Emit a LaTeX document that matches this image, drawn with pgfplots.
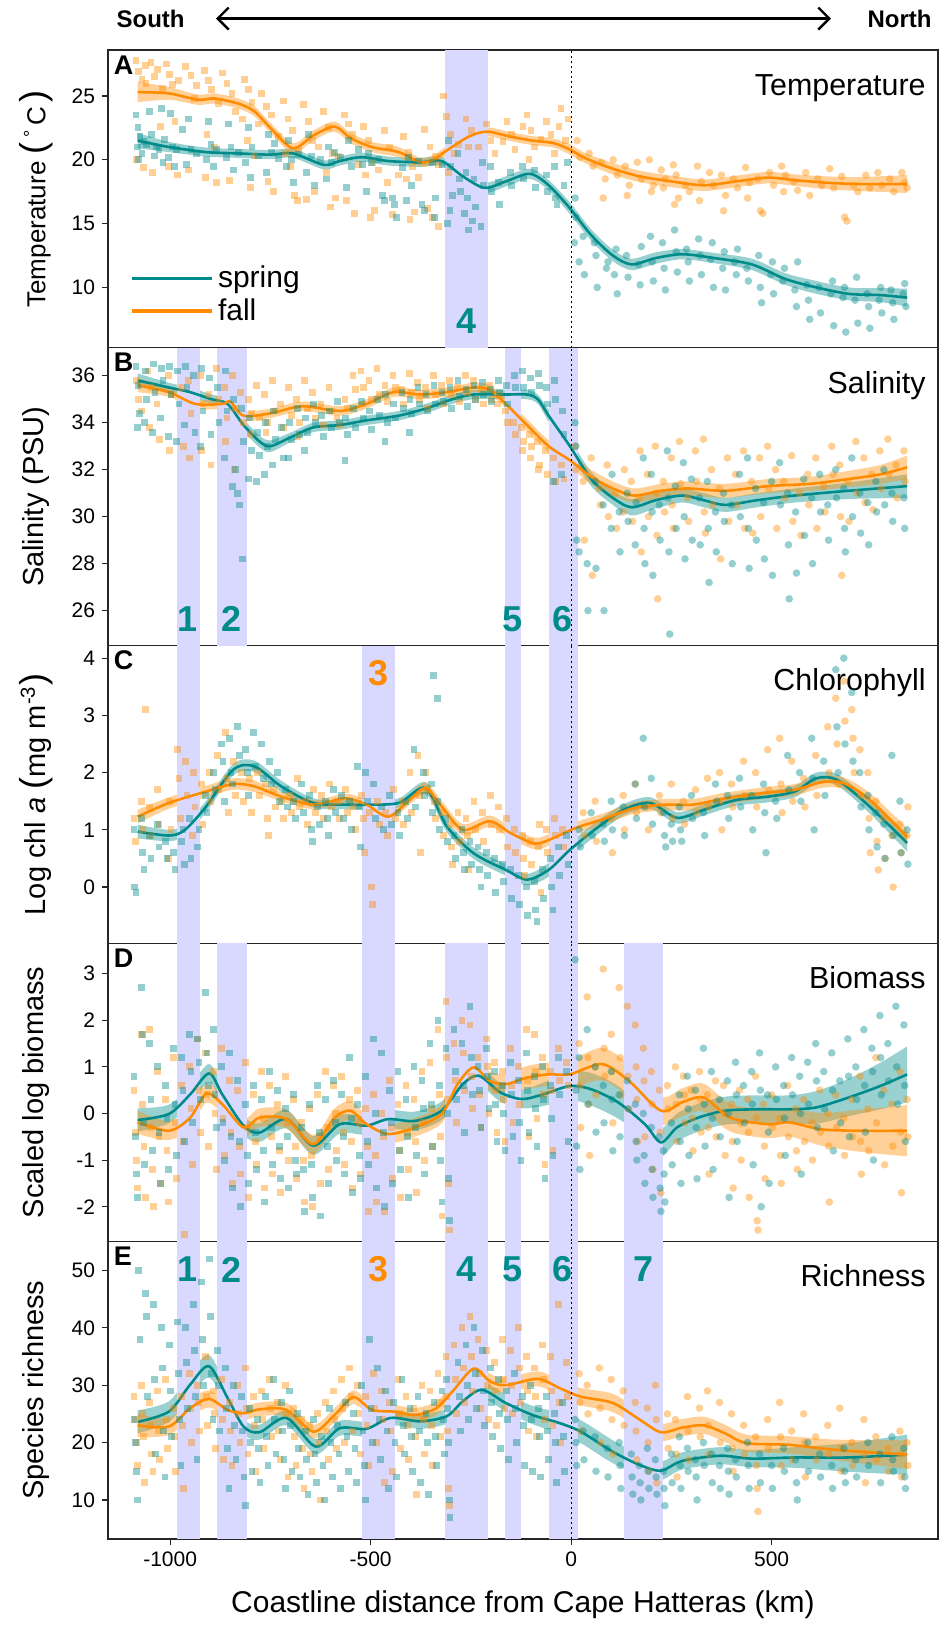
\documentclass[border=0pt]{standalone}
\usepackage{fontspec}
\setmainfont{Liberation Sans}
\usepackage{pgfplots}
\pgfplotsset{compat=1.18}
\usepackage{pgfplotstable}
\usepgfplotslibrary{fillbetween}
\usetikzlibrary{arrows.meta}
\definecolor{teal2}{RGB}{0,139,139}
\definecolor{orng}{RGB}{255,140,0}
\definecolor{band}{RGB}{217,217,255}

\pgfplotsset{
 panel/.style={width=415pt, height=148.9pt, scale only axis, anchor=south west,
   xmin=-1155, xmax=915, tick align=outside, major tick length=3pt, tick pos=left,
   clip bounding box=upper bound,
   axis line style={line width=0.6pt, black!85}, major tick style={line width=0.6pt, black!85},
   /pgf/number format/assume math mode=true, /pgf/number format/1000 sep={},
   tick label style={font=\fontsize{10.5}{12}\selectfont},
   ylabel style={font=\fontsize{14.5}{16}\selectfont, at={(axis description cs:-0.0867,0.5)}, anchor=center},
   xtick=\empty},
 sS/.style={only marks, mark=square*, mark size=1.7pt, color=teal2, mark options={solid, draw opacity=0, fill opacity=0.42}, forget plot},
 sN/.style={only marks, mark=*, mark size=1.9pt, color=teal2, mark options={solid, draw opacity=0, fill opacity=0.42}, forget plot},
 fS/.style={only marks, mark=square*, mark size=1.7pt, color=orng, mark options={solid, draw opacity=0, fill opacity=0.42}, forget plot},
 fN/.style={only marks, mark=*, mark size=1.9pt, color=orng, mark options={solid, draw opacity=0, fill opacity=0.42}, forget plot},
}
\newcommand\ribbon[3]{%
 \addplot[draw=none, smooth, forget plot, name path=#3H] table[x=x, y expr=\thisrow{y}+\thisrow{e}] {#1};
 \addplot[draw=none, smooth, forget plot, name path=#3L] table[x=x, y expr=\thisrow{y}-\thisrow{e}] {#1};
 \addplot[fill=#2, fill opacity=0.4, draw=none, forget plot] fill between[of=#3H and #3L];
}
\newcommand\curve[2]{\addplot[#2, line width=1.3pt, smooth, forget plot] table[x=x,y=y] {#1};}
\newcommand\bnd[2]{\fill[band] ({axis cs:#1,0} |- {rel axis cs:0,0}) rectangle ({axis cs:#2,0} |- {rel axis cs:0,1});}
\newcommand\zline{\draw[black, line width=0.5pt, dash pattern=on 1pt off 1.5pt] ({axis cs:0,0} |- {rel axis cs:0,0}) -- ({axis cs:0,0} |- {rel axis cs:0,1});}
\newcommand\plet[1]{\node[anchor=north west, inner sep=0pt, font=\bfseries\fontsize{13.5}{15}\selectfont] at (axis description cs:0.0065,0.983) {#1};}
\newcommand\ptitle[1]{\node[anchor=base east, inner sep=0pt, font=\fontsize{15.2}{17}\selectfont] at (axis description cs:0.9855,0.848) {#1};}
\newcommand\bnum[4]{\node[anchor=center, inner sep=0pt, text=#4, font=\bfseries\fontsize{18}{20}\selectfont] at (axis cs:#1,#2) {#3};}
\newcommand\bigp[1]{{\fontsize{18}{18}\selectfont #1}}

\pgfplotstableread{
x y e
-1081 25.3 0.8
-1003 25.2 0.5
-930 24.7 0.4
-890 24.8 0.4
-830 24.4 0.4
-790 23.8 0.4
-750 22.5 0.4
-694 20.9 0.4
-643 21.9 0.4
-590 22.6 0.4
-550 21.7 0.4
-497 21.0 0.4
-430 20.6 0.4
-376 19.8 0.35
-343 20.0 0.35
-316 20.6 0.35
-256 21.8 0.35
-210 22.2 0.35
-150 21.8 0.35
-96 21.5 0.35
-43 21.3 0.35
-3 20.8 0.4
37 20.1 0.4
104 19.3 0.45
171 18.7 0.45
251 18.3 0.45
331 18.0 0.45
411 18.3 0.45
491 18.6 0.45
558 18.4 0.45
638 18.2 0.5
718 18.1 0.55
838 18.1 0.7
}\Af
\pgfplotstableread{
x y e
-1081 21.5 0.6
-1003 21.0 0.4
-910 20.6 0.35
-830 20.5 0.35
-750 20.4 0.35
-694 20.5 0.35
-617 19.6 0.35
-577 19.9 0.35
-523 20.2 0.35
-456 19.9 0.35
-376 19.8 0.35
-323 19.9 0.35
-270 18.7 0.4
-216 17.8 0.4
-163 18.3 0.4
-103 18.9 0.4
-56 18.0 0.4
-3 16.2 0.45
50 14.1 0.45
104 12.5 0.45
151 11.8 0.45
211 12.3 0.45
277 12.6 0.4
357 12.3 0.4
451 11.8 0.45
531 10.7 0.45
598 10.1 0.5
691 9.5 0.5
771 9.4 0.55
838 9.2 0.7
}\As
\pgfplotstableread{
x y e
-1081 35.6 0.3
-1003 35.3 0.2
-937 34.8 0.2
-870 34.8 0.2
-850 34.9 0.2
-817 34.3 0.2
-750 34.4 0.2
-670 34.7 0.2
-577 34.5 0.2
-510 34.8 0.2
-443 35.3 0.2
-376 35.2 0.2
-310 35.3 0.2
-243 35.5 0.2
-203 35.4 0.2
-163 34.8 0.2
-110 33.9 0.25
-56 33.0 0.25
-3 32.4 0.3
50 31.7 0.3
104 31.2 0.3
157 30.9 0.3
224 31.1 0.3
291 31.2 0.3
384 31.1 0.3
491 31.3 0.3
598 31.4 0.3
691 31.6 0.35
771 31.8 0.4
838 32.1 0.5
}\Bf
\pgfplotstableread{
x y e
-1081 35.8 0.3
-1003 35.5 0.2
-950 35.3 0.2
-897 35.0 0.2
-857 34.8 0.2
-817 33.9 0.25
-777 33.2 0.25
-750 33.0 0.25
-697 33.4 0.2
-643 33.8 0.2
-577 33.9 0.2
-510 34.1 0.2
-430 34.3 0.2
-363 34.6 0.2
-296 35.0 0.2
-243 35.2 0.2
-163 35.2 0.2
-110 35.2 0.2
-83 35.0 0.2
-56 34.3 0.25
-3 33.0 0.3
50 31.6 0.3
104 30.8 0.3
151 30.4 0.35
211 30.7 0.35
277 30.9 0.3
331 30.7 0.3
384 30.5 0.3
464 30.7 0.3
558 30.9 0.3
691 31.1 0.35
838 31.3 0.5
}\Bs
\pgfplotstableread{
x y e
-1081 1.23 0.12
-1003 1.47 0.1
-910 1.67 0.1
-843 1.80 0.1
-790 1.76 0.1
-723 1.58 0.08
-643 1.44 0.08
-563 1.55 0.08
-510 1.44 0.08
-456 1.23 0.08
-403 1.52 0.08
-363 1.73 0.1
-323 1.41 0.1
-270 1.00 0.1
-203 1.15 0.1
-150 0.94 0.1
-90 0.76 0.1
-43 0.86 0.1
10 1.03 0.1
77 1.18 0.1
157 1.38 0.1
237 1.44 0.1
304 1.44 0.1
384 1.55 0.1
477 1.64 0.1
558 1.70 0.1
624 1.83 0.1
678 1.82 0.1
744 1.53 0.12
838 0.88 0.15
}\Cf
\pgfplotstableread{
x y e
-1081 0.97 0.12
-1003 0.90 0.1
-963 1.00 0.1
-910 1.41 0.1
-843 2.05 0.1
-790 2.11 0.1
-723 1.76 0.1
-643 1.47 0.08
-563 1.44 0.08
-510 1.44 0.08
-430 1.47 0.08
-363 1.73 0.1
-310 1.06 0.1
-243 0.59 0.1
-163 0.30 0.1
-110 0.13 0.1
-56 0.30 0.12
-3 0.65 0.12
64 1.03 0.12
131 1.35 0.1
197 1.47 0.1
264 1.21 0.1
331 1.35 0.1
411 1.52 0.1
491 1.58 0.1
558 1.67 0.1
611 1.90 0.1
664 1.87 0.1
744 1.41 0.12
838 0.77 0.15
}\Cs
\pgfplotstableread{
x y e
-1081 -0.19 0.25
-1003 -0.37 0.2
-950 -0.09 0.2
-910 0.43 0.2
-870 0.20 0.2
-817 -0.30 0.2
-777 -0.09 0.2
-710 -0.12 0.2
-643 -0.66 0.2
-590 -0.09 0.2
-550 0.06 0.2
-510 -0.23 0.2
-456 -0.44 0.2
-390 -0.30 0.2
-323 -0.01 0.2
-283 0.63 0.2
-243 0.99 0.2
-203 0.70 0.2
-163 0.63 0.2
-110 0.77 0.25
-56 0.84 0.25
-3 0.84 0.3
77 1.06 0.35
144 0.70 0.35
224 0.06 0.3
277 0.24 0.3
331 0.34 0.3
397 -0.09 0.3
491 -0.23 0.3
544 -0.19 0.3
624 -0.34 0.35
718 -0.37 0.45
838 -0.37 0.55
}\Df
\pgfplotstableread{
x y e
-1081 -0.14 0.25
-1003 -0.01 0.2
-950 0.41 0.2
-903 0.86 0.2
-870 0.41 0.2
-817 -0.26 0.2
-777 -0.41 0.2
-710 -0.12 0.2
-643 -0.69 0.2
-577 -0.23 0.2
-510 -0.26 0.2
-456 -0.12 0.2
-390 -0.16 0.2
-323 0.06 0.2
-270 0.63 0.2
-230 0.81 0.2
-176 0.45 0.2
-123 0.31 0.2
-70 0.41 0.25
-3 0.59 0.3
50 0.52 0.35
117 0.24 0.35
184 -0.23 0.3
224 -0.62 0.3
264 -0.30 0.3
317 -0.09 0.3
384 0.06 0.3
464 0.09 0.3
544 0.09 0.3
611 0.13 0.35
691 0.34 0.4
771 0.59 0.5
838 0.84 0.6
}\Ds
\pgfplotstableread{
x y e
-1081 23.0 2.0
-1003 22.8 1.5
-950 26.0 1.5
-903 27.6 1.5
-857 25.7 1.2
-817 25.1 1.2
-777 25.8 1.2
-710 25.7 1.2
-643 21.9 1.2
-590 24.8 1.2
-543 27.9 1.2
-497 25.7 1.2
-443 25.4 1.2
-390 24.8 1.2
-336 26.0 1.2
-296 28.9 1.3
-243 32.9 1.3
-203 30.7 1.3
-163 30.0 1.3
-83 31.1 1.3
-29 29.5 1.4
24 28.0 1.5
104 26.9 1.6
171 24.0 1.6
224 21.8 1.5
277 22.6 1.5
331 23.0 1.5
384 21.6 1.5
437 19.9 1.5
544 19.6 1.5
664 18.7 1.8
838 17.9 2.5
}\Ef
\pgfplotstableread{
x y e
-1081 23.6 2.0
-1003 25.4 1.8
-950 30.1 2.0
-903 33.3 2.0
-857 27.8 1.5
-817 22.8 1.3
-777 21.8 1.3
-710 24.3 1.3
-637 19.3 1.3
-577 22.5 1.3
-510 22.4 1.3
-450 24.3 1.3
-376 23.7 1.3
-310 24.6 1.3
-270 27.2 1.4
-223 29.2 1.4
-163 26.9 1.5
-96 24.8 1.6
-29 23.4 1.8
24 21.9 2.0
104 18.4 2.0
171 16.1 1.8
224 15.1 1.6
277 16.8 1.5
371 17.7 1.5
451 17.2 1.5
558 17.4 1.8
691 17.4 2.5
838 17.9 3.5
}\Es

\begin{document}
\begin{tikzpicture}
\path (0,0) rectangle (469.5pt,814.5pt);

% top arrow
\draw[line width=1.1pt, {Straight Barb[length=5.5pt,width=11pt,line width=1.2pt]}-{Straight Barb[length=5.5pt,width=11pt,line width=1.2pt]}] (108pt,805.2pt) -- (415.5pt,805.2pt);
\node[font=\bfseries\fontsize{12}{14}\selectfont] at (75.3pt,805.2pt) {South};
\node[font=\bfseries\fontsize{12}{14}\selectfont] at (449.8pt,805.2pt) {North};

%================ A
\begin{axis}[panel, at={(54pt,640.6pt)}, ymin=5.27, ymax=28.6, ytick={10,15,20,25},
  ylabel={\fontsize{13}{15}\selectfont Temperature \bigp{(}\,\textsuperscript{°}\,C\,\bigp{)}},
  legend style={draw=none, fill=none, at={(0.027,0.29)}, anchor=north west, font=\fontsize{15}{16}\selectfont, row sep=0pt, inner sep=0pt},
  legend image code/.code={\draw[#1] (0pt,0pt) -- (28.5pt,0pt); \path (0pt,0pt) -- (40pt,0pt);}, legend cell align=left]
\addlegendimage{teal2, line width=1.6pt}\addlegendentry{spring}
\addlegendimage{orng, line width=1.6pt}\addlegendentry{fall}
\bnd{-314}{-207}
\addplot[fS] coordinates {(-1085,27.8)(-1078,26.9)(-1070,26.3)(-1062,27.4)(-1083,20.0)(-1066,19.4)(-1048,27.6)(-1040,26.5)(-1032,27.1)(-1045,19.0)(-1025,22.6)(-1010,27.5)(-1002,26.7)(-995,25.9)(-988,23.0)(-1005,19.5)(-982,18.8)(-962,27.3)(-948,26.6)(-955,19.2)(-935,25.8)(-915,27.0)(-905,26.2)(-896,25.5)(-908,22.0)(-890,21.0)(-912,18.6)(-884,18.2)(-870,26.8)(-858,26.0)(-846,25.2)(-852,18.4)(-838,23.8)(-815,26.3)(-805,25.5)(-796,24.5)(-808,21.5)(-790,20.3)(-800,17.8)(-772,25.2)(-760,24.2)(-748,23.5)(-756,18.3)(-742,17.5)(-718,24.6)(-706,23.2)(-695,22.3)(-712,20.5)(-700,19.5)(-690,17.2)(-683,16.8)(-668,24.3)(-655,23.0)(-645,21.5)(-660,16.9)(-640,17.5)(-618,23.8)(-605,22.5)(-596,20.5)(-610,19.0)(-588,17.0)(-600,16.3)(-566,23.5)(-555,22.8)(-545,22.0)(-560,16.8)(-540,15.8)(-518,22.6)(-506,21.5)(-496,19.8)(-512,18.8)(-490,16.0)(-500,15.5)(-465,22.3)(-452,21.0)(-445,15.7)(-458,18.2)(-418,21.8)(-406,20.6)(-396,19.5)(-410,18.5)(-390,15.9)(-402,15.3)(-365,22.4)(-352,21.0)(-345,15.5)(-358,16.2)(-330,14.8)(-338,20.3)(-310,23.4)(-300,22.0)(-292,20.5)(-305,19.0)(-318,25.0)(-262,23.2)(-248,22.3)(-255,21.0)(-212,22.8)(-200,21.5)(-190,20.5)(-160,23.0)(-148,22.0)(-140,20.8)(-110,23.5)(-100,22.3)(-92,21.0)(-105,20.0)(-62,23.0)(-50,22.0)(-42,20.5)(-25,24.0)(-15,21.5)(-8,23.2)(-1060,26.0)(-1020,25.6)(-980,26.2)(-940,24.8)(-880,24.4)(-820,23.2)(-780,22.8)(-730,21.8)(-680,20.8)(-630,21.0)(-580,20.3)(-530,19.6)(-480,19.2)(-430,18.8)(-380,18.6)(-330,19.6)(-280,21.2)(-230,21.0)(-170,21.4)(-120,22.6)(-75,21.6)(-30,22.6)};
\addplot[fN] coordinates {(15,21.5)(22,20.2)(45,20.5)(55,19.5)(75,19.8)(85,18.5)(80,17.0)(105,20.0)(115,18.8)(135,19.5)(145,18.0)(140,17.2)(165,19.8)(175,18.5)(195,20.0)(205,18.0)(200,17.5)(225,19.2)(235,18.5)(230,17.8)(255,19.6)(262,18.8)(268,17.0)(258,16.5)(285,18.0)(295,17.5)(315,19.5)(325,18.3)(320,16.8)(345,19.0)(355,18.0)(375,18.8)(385,17.2)(380,16.0)(405,18.5)(415,17.8)(435,19.4)(445,18.2)(440,17.0)(465,18.5)(472,16.0)(478,15.8)(495,19.0)(505,18.0)(525,19.5)(535,18.8)(530,17.5)(555,18.3)(565,17.6)(585,19.0)(595,17.2)(615,18.5)(625,18.0)(645,19.3)(655,17.8)(675,18.7)(682,15.5)(688,15.2)(705,18.0)(715,17.5)(735,18.8)(745,17.8)(765,19.0)(775,18.0)(795,18.5)(805,17.5)(825,19.0)(832,18.2)(838,17.8)};
\addplot[sS] coordinates {(-1085,23.5)(-1080,22.5)(-1075,21.8)(-1082,21.0)(-1070,20.5)(-1078,20.0)(-1052,23.8)(-1046,22.0)(-1058,21.2)(-1040,20.3)(-1022,24.0)(-1015,21.6)(-1028,20.8)(-1018,19.8)(-1000,23.6)(-994,21.0)(-1004,20.2)(-990,19.5)(-955,23.2)(-948,20.8)(-960,19.6)(-970,22.4)(-905,23.0)(-898,21.2)(-910,20.0)(-892,19.5)(-855,22.8)(-848,21.0)(-860,20.2)(-842,19.2)(-805,22.5)(-796,21.0)(-812,19.8)(-800,18.6)(-755,22.0)(-748,20.6)(-760,19.0)(-740,21.3)(-705,21.5)(-698,20.0)(-710,19.5)(-692,18.2)(-655,22.0)(-648,20.3)(-660,19.0)(-640,18.0)(-605,21.0)(-598,19.8)(-610,18.5)(-590,20.6)(-555,21.5)(-548,19.5)(-560,17.8)(-530,20.8)(-505,20.5)(-498,19.8)(-510,17.5)(-470,17.2)(-465,16.8)(-445,17.0)(-440,16.5)(-435,15.5)(-405,20.2)(-398,18.0)(-410,16.8)(-372,16.5)(-365,16.0)(-345,19.8)(-338,17.0)(-340,15.5)(-305,21.5)(-300,19.5)(-296,17.2)(-302,16.0)(-308,15.0)(-282,20.5)(-278,18.5)(-275,17.5)(-262,19.0)(-258,17.0)(-265,15.8)(-255,14.5)(-242,18.5)(-238,16.3)(-245,15.2)(-222,19.8)(-218,18.0)(-225,14.8)(-202,19.5)(-198,17.5)(-182,18.2)(-178,16.5)(-152,19.0)(-148,18.0)(-122,19.5)(-118,18.5)(-92,19.2)(-88,17.8)(-62,18.8)(-58,17.5)(-42,19.5)(-38,17.0)(-35,16.5)(-18,18.0)(-10,19.8)(-1065,21.4)(-1035,21.0)(-985,20.8)(-935,20.5)(-885,20.8)(-830,20.6)(-780,20.3)(-730,20.1)(-680,20.4)(-625,20.0)(-575,20.2)(-520,19.6)(-480,20.0)(-420,19.4)(-380,19.9)(-320,19.6)};
\addplot[sN] coordinates {(10,17.0)(12,15.5)(8,13.5)(20,12.0)(30,14.0)(33,11.0)(58,13.5)(62,12.5)(65,10.0)(88,11.5)(92,12.0)(108,11.0)(112,13.0)(115,9.5)(138,12.5)(142,10.8)(168,11.8)(172,10.2)(175,13.2)(198,14.0)(202,12.0)(205,10.5)(228,13.5)(232,11.5)(235,9.8)(258,14.5)(262,12.8)(265,11.2)(288,13.0)(292,12.0)(295,10.5)(318,13.8)(322,12.5)(325,11.0)(348,12.2)(352,13.5)(355,10.0)(378,11.5)(382,12.8)(385,9.8)(408,12.0)(412,11.0)(415,13.0)(438,11.5)(442,10.5)(468,12.5)(472,10.0)(475,8.8)(498,11.0)(502,12.0)(505,9.5)(528,10.5)(532,11.5)(558,9.8)(562,8.5)(565,12.0)(588,10.2)(592,9.0)(595,7.5)(618,10.0)(622,8.0)(648,9.5)(652,10.5)(655,7.0)(678,9.2)(682,10.0)(685,6.5)(708,9.0)(712,10.8)(715,7.2)(738,9.5)(742,8.5)(745,6.8)(768,9.0)(772,10.0)(775,8.0)(798,9.8)(802,8.8)(805,7.5)(828,9.5)(832,10.3)(835,8.5)};
\ribbon{\As}{teal2}{as}
\ribbon{\Af}{orng}{af}
\curve{\As}{teal2}
\curve{\Af}{orng}
\zline
\plet{A}
\ptitle{Temperature}
\bnum{-260}{7.36}{4}{teal2}
\end{axis}

%================ B
\begin{axis}[panel, at={(54pt,491.7pt)}, ymin=24.51, ymax=37.19, ytick={26,28,30,32,34,36},
  ylabel={Salinity (PSU)}]
\bnd{-983}{-926}\bnd{-883}{-808}\bnd{-164}{-126}\bnd{-56}{18}
\addplot[fS] coordinates {(-1085,35.8)(-1078,35.0)(-1072,34.5)(-1055,36.2)(-1048,35.5)(-1052,33.8)(-1033,34.8)(-1027,33.3)(-1005,36.0)(-998,35.2)(-1002,32.8)(-972,35.5)(-966,33.0)(-955,35.8)(-948,34.4)(-952,32.5)(-924,36.0)(-918,34.8)(-921,32.8)(-903,35.2)(-898,32.2)(-884,36.3)(-878,35.0)(-864,35.5)(-858,34.2)(-861,33.2)(-844,36.0)(-838,34.6)(-841,32.0)(-824,35.3)(-818,34.0)(-804,35.0)(-798,34.4)(-801,33.5)(-784,35.6)(-778,34.2)(-764,35.2)(-758,34.0)(-761,33.6)(-744,35.8)(-738,34.5)(-724,34.8)(-718,33.8)(-704,35.5)(-698,34.3)(-684,35.0)(-678,34.0)(-681,33.4)(-664,35.8)(-658,34.6)(-644,35.3)(-638,34.2)(-624,34.8)(-618,33.9)(-604,35.5)(-598,34.5)(-584,34.2)(-578,33.9)(-564,35.0)(-558,34.6)(-544,36.0)(-538,35.4)(-524,36.2)(-518,35.5)(-521,34.8)(-504,35.8)(-498,35.0)(-484,36.3)(-478,35.2)(-464,35.6)(-458,34.9)(-444,36.0)(-438,35.5)(-424,35.4)(-418,34.8)(-404,36.1)(-398,35.3)(-384,35.7)(-378,35.0)(-364,35.5)(-358,34.6)(-344,36.0)(-338,35.2)(-324,35.6)(-318,34.8)(-304,35.8)(-298,35.2)(-284,35.5)(-278,34.9)(-264,36.0)(-258,35.3)(-244,35.8)(-238,35.0)(-224,35.4)(-218,34.8)(-204,35.6)(-198,35.0)(-184,34.8)(-178,35.2)(-164,34.5)(-158,34.0)(-144,34.0)(-138,33.5)(-124,33.8)(-118,33.2)(-121,32.8)(-104,33.5)(-98,33.0)(-101,32.5)(-84,33.2)(-78,32.2)(-81,32.0)(-64,32.8)(-58,31.8)(-44,32.5)(-38,31.5)(-24,32.2)(-18,31.6)};
\addplot[fN] coordinates {(10,33.0)(12,32.0)(30,31.5)(33,29.0)(50,32.5)(53,27.5)(70,31.2)(73,30.5)(90,32.2)(93,30.0)(110,31.0)(113,29.5)(130,30.2)(133,32.0)(150,31.5)(153,29.8)(170,30.8)(172,32.8)(175,28.5)(190,31.8)(193,30.0)(210,33.0)(212,31.0)(214,29.2)(216,26.5)(230,31.5)(233,30.2)(250,32.5)(252,30.5)(255,29.5)(270,33.2)(273,31.4)(290,30.8)(293,29.8)(310,32.8)(313,31.5)(330,33.3)(332,30.2)(335,29.3)(350,32.0)(353,30.5)(370,31.2)(373,28.2)(390,32.5)(393,29.8)(410,31.8)(413,30.5)(430,32.8)(433,29.5)(450,31.5)(453,29.3)(470,32.5)(473,30.0)(490,33.0)(493,31.2)(510,32.0)(513,29.5)(530,31.5)(533,30.8)(550,32.6)(553,29.8)(570,31.0)(573,29.2)(590,31.8)(593,30.5)(610,32.5)(613,29.5)(630,31.3)(633,30.2)(650,33.0)(653,31.8)(670,32.2)(672,30.0)(675,27.5)(690,31.5)(693,29.8)(710,33.2)(713,31.0)(730,32.5)(733,30.6)(750,31.8)(753,30.3)(770,32.8)(773,31.2)(790,33.3)(793,31.8)(810,32.2)(813,30.8)(830,32.8)(833,31.5)};
\addplot[sS] coordinates {(-1085,36.4)(-1080,35.6)(-1076,34.4)(-1082,33.8)(-1062,36.2)(-1058,35.0)(-1064,34.0)(-1042,36.5)(-1038,35.3)(-1044,33.6)(-1022,36.3)(-1018,35.8)(-1024,34.2)(-1002,36.4)(-998,35.2)(-1004,33.4)(-982,36.2)(-978,34.8)(-984,33.2)(-962,36.4)(-958,35.5)(-964,33.9)(-942,36.0)(-938,33.6)(-922,36.3)(-918,34.5)(-924,33.0)(-902,35.9)(-898,33.5)(-882,35.5)(-878,34.0)(-862,36.2)(-858,34.5)(-864,32.5)(-842,35.0)(-838,32.0)(-844,31.3)(-832,31.0)(-828,30.5)(-822,34.6)(-818,33.2)(-820,28.2)(-802,34.2)(-798,32.8)(-804,31.6)(-782,33.6)(-778,32.6)(-784,31.5)(-762,34.0)(-758,33.0)(-764,31.8)(-742,34.5)(-738,33.3)(-744,32.2)(-722,33.8)(-718,32.5)(-702,34.0)(-698,33.3)(-704,32.5)(-682,34.6)(-678,33.5)(-662,34.2)(-658,33.6)(-664,32.8)(-642,34.8)(-638,34.0)(-622,34.3)(-618,33.4)(-602,34.5)(-598,33.8)(-582,34.9)(-578,34.0)(-562,34.2)(-558,33.5)(-564,32.4)(-542,34.6)(-538,33.8)(-522,34.9)(-518,34.2)(-502,34.5)(-498,33.7)(-482,35.0)(-478,34.3)(-462,35.2)(-458,34.0)(-464,33.2)(-442,34.8)(-438,34.2)(-422,35.3)(-418,34.6)(-402,35.0)(-398,34.4)(-404,33.6)(-382,35.5)(-378,34.8)(-362,35.2)(-358,34.5)(-342,35.6)(-338,34.8)(-322,35.3)(-318,34.9)(-302,35.5)(-298,34.6)(-282,35.8)(-278,35.1)(-262,35.4)(-258,34.7)(-242,35.6)(-238,35.0)(-222,35.7)(-218,35.2)(-202,35.4)(-198,34.9)(-182,35.8)(-178,35.3)(-162,35.6)(-158,34.8)(-142,36.0)(-138,35.5)(-122,36.2)(-118,35.5)(-102,35.9)(-98,35.3)(-82,36.1)(-78,35.6)(-62,35.5)(-58,34.8)(-42,35.8)(-38,35.0)(-44,31.5)(-22,34.5)(-18,33.5)(-24,31.8)};
\addplot[sN] coordinates {(10,34.0)(12,33.0)(14,29.0)(20,28.5)(40,28.0)(42,26.0)(60,31.5)(62,27.8)(80,30.5)(82,26.0)(100,29.5)(102,31.8)(120,30.2)(122,28.5)(140,31.0)(142,29.8)(160,28.8)(162,30.6)(180,32.5)(182,29.5)(184,28.0)(200,31.8)(202,30.2)(204,27.5)(220,30.5)(222,29.0)(240,32.8)(242,30.8)(244,28.5)(246,25.0)(260,31.3)(262,29.5)(280,32.3)(282,30.0)(284,28.2)(300,31.6)(302,29.0)(320,30.8)(322,28.8)(340,31.5)(342,29.5)(344,27.2)(360,30.2)(362,28.5)(380,31.0)(382,29.8)(400,30.5)(402,28.0)(420,31.8)(422,30.0)(440,32.5)(442,29.5)(444,27.8)(460,31.2)(462,29.0)(480,30.6)(482,28.2)(500,31.5)(502,27.5)(520,32.3)(522,30.5)(540,31.0)(542,28.8)(544,26.5)(560,30.2)(562,27.6)(580,31.6)(582,29.2)(600,30.8)(602,28.0)(620,31.8)(622,30.2)(640,30.5)(642,29.0)(660,32.0)(662,30.8)(680,31.2)(682,29.5)(684,28.5)(700,32.5)(702,30.0)(720,31.0)(722,29.3)(740,30.6)(742,28.8)(760,31.5)(762,30.2)(780,32.0)(782,30.5)(800,31.0)(802,29.8)(830,30.8)(832,29.5)};
\ribbon{\Bs}{teal2}{bs}
\ribbon{\Bf}{orng}{bf}
\curve{\Bs}{teal2}
\curve{\Bf}{orng}
\zline
\plet{B}
\ptitle{Salinity}
\bnum{-957}{25.63}{1}{teal2}\bnum{-846}{25.63}{2}{teal2}\bnum{-146}{25.63}{5}{teal2}\bnum{-22}{25.63}{6}{teal2}
\end{axis}

%================ C
\begin{axis}[panel, at={(54pt,342.8pt)}, ymin=-0.985, ymax=4.22, ytick={0,1,2,3,4},
  ylabel={Log chl \textit{a} \bigp{(}mg m\textsuperscript{-3}\bigp{)}}]
\bnd{-983}{-926}\bnd{-521}{-438}\bnd{-164}{-126}\bnd{-56}{18}
\addplot[fS] coordinates {(-1090,1.2)(-1086,0.8)(-1072,1.5)(-1068,1.0)(-1062,3.1)(-1052,1.4)(-1048,0.9)(-1032,1.7)(-1028,1.1)(-1002,1.5)(-998,1.0)(-1005,0.5)(-982,2.4)(-978,1.9)(-975,1.2)(-962,2.2)(-958,1.6)(-942,2.0)(-938,1.4)(-945,0.9)(-922,1.8)(-918,1.1)(-902,2.0)(-898,1.5)(-882,2.3)(-878,1.7)(-862,2.7)(-858,1.9)(-855,1.3)(-842,2.2)(-838,1.6)(-822,2.0)(-818,1.5)(-802,1.9)(-798,1.3)(-782,2.0)(-778,1.6)(-762,1.8)(-758,1.2)(-755,0.9)(-742,1.7)(-738,1.4)(-722,1.5)(-718,1.2)(-702,1.6)(-698,1.3)(-682,1.9)(-678,1.4)(-662,1.5)(-658,1.1)(-642,1.7)(-638,1.3)(-622,1.6)(-618,1.2)(-602,1.8)(-598,1.4)(-582,1.5)(-578,1.2)(-562,1.7)(-558,1.3)(-542,1.4)(-538,1.0)(-522,1.6)(-518,1.2)(-515,0.6)(-502,1.3)(-498,0.0)(-495,-0.3)(-482,1.5)(-478,1.1)(-462,1.3)(-458,0.9)(-442,1.7)(-438,1.2)(-422,1.5)(-418,1.1)(-402,2.0)(-398,1.3)(-382,2.3)(-378,1.6)(-375,0.6)(-362,2.0)(-358,1.7)(-342,1.5)(-338,1.2)(-322,1.3)(-318,0.9)(-302,1.1)(-298,0.7)(-295,0.4)(-282,1.3)(-278,0.8)(-262,1.2)(-258,0.9)(-255,0.3)(-242,1.5)(-238,1.0)(-222,1.3)(-218,0.8)(-202,1.6)(-198,1.1)(-182,1.4)(-178,1.0)(-162,1.2)(-158,0.7)(-142,1.0)(-138,0.6)(-122,0.9)(-118,0.5)(-115,0.2)(-102,0.8)(-98,0.4)(-82,0.7)(-78,1.1)(-75,-0.1)(-62,1.0)(-58,0.6)(-42,1.2)(-38,0.9)(-22,1.0)(-18,0.7)};
\addplot[fN] coordinates {(30,1.3)(33,0.9)(60,1.5)(63,0.8)(100,1.2)(103,0.6)(130,1.6)(133,1.0)(160,1.8)(163,1.3)(190,1.4)(193,1.0)(220,1.6)(223,1.3)(250,1.8)(253,1.2)(280,1.5)(283,1.1)(310,1.7)(313,1.3)(340,1.9)(343,1.4)(370,2.0)(373,1.5)(376,1.0)(400,1.8)(403,1.4)(430,2.2)(433,1.6)(460,2.0)(463,1.4)(490,2.4)(493,1.7)(520,2.6)(523,1.8)(526,1.3)(550,2.2)(553,1.5)(580,1.9)(583,1.4)(610,2.3)(613,1.6)(640,2.8)(643,2.0)(660,3.3)(663,2.5)(666,1.8)(680,3.6)(683,2.9)(700,3.1)(703,2.6)(706,2.0)(720,2.4)(723,1.6)(740,2.0)(743,1.2)(746,0.6)(760,1.5)(763,0.8)(766,0.3)(780,1.2)(783,0.5)(800,0.9)(803,0.0)(820,1.1)(823,0.6)(838,0.9)(840,1.4)};
\addplot[sS] coordinates {(-1090,1.0)(-1088,0.0)(-1085,-0.1)(-1072,1.2)(-1068,0.6)(-1065,0.3)(-1052,0.9)(-1048,0.5)(-1032,1.1)(-1028,0.7)(-1012,0.8)(-1008,0.5)(-992,0.6)(-988,0.3)(-972,0.8)(-968,1.0)(-965,0.4)(-952,1.2)(-948,0.5)(-932,0.7)(-928,1.0)(-912,1.6)(-908,1.3)(-892,2.0)(-888,1.7)(-872,2.5)(-868,2.2)(-865,1.5)(-852,2.6)(-848,2.0)(-845,1.8)(-832,2.8)(-828,2.3)(-812,2.4)(-808,2.0)(-805,1.6)(-792,2.7)(-788,2.1)(-772,2.5)(-768,1.9)(-752,2.2)(-748,1.8)(-732,2.0)(-728,1.5)(-712,1.7)(-708,1.4)(-692,1.5)(-688,1.2)(-672,1.8)(-668,1.3)(-652,1.6)(-648,1.0)(-645,0.8)(-632,1.4)(-628,1.1)(-612,1.5)(-608,1.2)(-605,0.9)(-592,1.7)(-588,1.3)(-572,1.6)(-568,1.2)(-552,1.5)(-548,1.0)(-532,2.1)(-528,1.4)(-525,0.7)(-512,2.0)(-508,1.5)(-492,1.8)(-488,1.2)(-472,1.4)(-468,1.0)(-452,1.6)(-448,1.1)(-432,1.3)(-428,0.9)(-412,1.5)(-408,1.2)(-392,2.4)(-388,1.4)(-343,3.7)(-368,2.0)(-365,1.6)(-334,3.3)(-348,1.8)(-345,1.3)(-332,1.5)(-328,1.0)(-312,1.2)(-308,0.8)(-292,0.9)(-288,0.5)(-272,1.0)(-268,0.6)(-265,0.3)(-252,0.8)(-248,0.4)(-232,0.7)(-228,0.3)(-225,0.0)(-212,0.6)(-208,0.2)(-192,0.5)(-188,-0.1)(-172,0.4)(-168,0.1)(-152,0.3)(-148,-0.2)(-132,0.2)(-128,-0.3)(-112,0.0)(-108,-0.5)(-92,0.1)(-88,-0.4)(-85,-0.6)(-72,0.3)(-68,-0.2)(-52,0.5)(-48,0.0)(-45,-0.4)(-32,0.7)(-28,0.2)(-12,0.9)(-8,0.4)};
\addplot[sN] coordinates {(20,1.0)(23,0.7)(50,1.3)(53,0.9)(80,1.1)(83,0.8)(100,1.5)(103,1.0)(130,1.4)(133,0.9)(160,1.8)(163,1.2)(180,2.6)(183,1.4)(200,1.9)(203,1.1)(230,1.3)(233,0.9)(236,0.7)(250,1.1)(253,0.8)(270,1.4)(273,1.0)(276,0.8)(300,1.6)(303,1.2)(330,1.3)(333,0.9)(360,1.8)(363,1.5)(390,1.6)(393,1.2)(420,1.9)(423,1.4)(450,1.6)(453,1.0)(480,1.8)(483,1.3)(486,0.6)(510,1.5)(513,1.2)(540,2.3)(543,1.7)(570,2.0)(573,1.5)(600,2.6)(603,1.9)(606,1.0)(630,2.2)(633,1.6)(660,3.8)(663,2.8)(666,2.0)(680,4.0)(683,2.5)(700,3.4)(703,2.2)(720,2.0)(723,1.4)(740,1.6)(743,1.0)(760,1.3)(763,0.7)(780,1.1)(783,0.5)(800,2.3)(803,0.9)(820,1.5)(823,0.6)(838,1.0)(840,0.4)};
\ribbon{\Cs}{teal2}{cs}
\ribbon{\Cf}{orng}{cf}
\curve{\Cs}{teal2}
\curve{\Cf}{orng}
\zline
\plet{C}
\ptitle{Chlorophyll}
\bnum{-480}{3.73}{3}{orng}
\end{axis}

%================ D
\begin{axis}[panel, at={(54pt,193.9pt)}, ymin=-2.74, ymax=3.65, ytick={-2,-1,0,1,2,3},
  ylabel={Scaled log biomass}]
\bnd{-983}{-926}\bnd{-883}{-808}\bnd{-521}{-438}\bnd{-314}{-207}\bnd{-164}{-126}\bnd{-56}{18}\bnd{133}{228}
\addplot[fS] coordinates {(-1090,0.5)(-1087,-0.4)(-1084,-1.0)(-1081,-1.6)(-1072,1.7)(-1068,0.2)(-1065,-0.7)(-1062,-1.8)(-1052,1.8)(-1048,-0.3)(-1045,-1.2)(-1042,-2.0)(-1032,0.9)(-1028,-0.5)(-1025,-1.5)(-1012,0.3)(-1008,-0.8)(-1005,-1.9)(-992,1.2)(-988,-0.2)(-985,-1.4)(-972,0.6)(-968,-0.6)(-965,-2.6)(-952,1.0)(-948,0.1)(-945,-1.1)(-932,1.6)(-928,0.5)(-925,-0.4)(-912,1.3)(-908,0.4)(-905,-0.7)(-892,0.9)(-888,0.0)(-885,-1.2)(-872,1.4)(-868,-0.1)(-865,-0.9)(-852,0.7)(-848,-0.4)(-845,-1.5)(-832,0.5)(-828,-0.7)(-825,-1.3)(-812,1.1)(-808,-0.3)(-805,-1.8)(-792,0.4)(-788,-0.6)(-785,-1.1)(-772,0.9)(-768,-0.1)(-765,-1.6)(-752,0.6)(-748,-0.5)(-745,-1.3)(-732,0.2)(-728,-0.8)(-725,-1.7)(-712,0.8)(-708,-0.2)(-705,-1.0)(-692,0.3)(-688,-0.7)(-685,-1.4)(-672,-0.2)(-668,-1.0)(-665,-1.9)(-652,0.1)(-648,-0.9)(-645,-2.0)(-632,0.4)(-628,-0.5)(-625,-1.5)(-612,0.9)(-608,-0.3)(-605,-1.2)(-592,0.6)(-588,0.0)(-585,-0.8)(-572,0.8)(-568,-0.4)(-565,-1.1)(-552,0.3)(-548,-0.6)(-545,-1.6)(-532,0.5)(-528,-0.2)(-525,-1.3)(-512,0.1)(-508,-0.7)(-505,-2.1)(-492,0.4)(-488,-0.9)(-485,-1.9)(-472,0.0)(-468,-0.5)(-465,-2.1)(-452,0.7)(-448,-0.3)(-445,-1.4)(-432,0.2)(-428,-0.8)(-425,-1.8)(-412,0.6)(-408,-0.4)(-405,-1.2)(-392,0.3)(-388,-0.6)(-385,-1.7)(-372,0.9)(-368,-0.2)(-365,-1.0)(-352,1.1)(-348,0.1)(-345,-0.7)(-332,1.8)(-328,0.4)(-325,-0.5)(-322,-2.2)(-312,2.4)(-310,1.2)(-308,0.3)(-306,-1.5)(-304,-2.5)(-292,1.5)(-288,0.7)(-285,-0.2)(-272,2.0)(-268,1.3)(-265,0.5)(-252,1.9)(-248,0.8)(-245,0.1)(-232,1.2)(-228,0.4)(-225,-0.3)(-212,1.6)(-208,1.0)(-205,0.0)(-192,1.1)(-188,0.5)(-185,-0.4)(-172,0.9)(-168,0.3)(-165,-0.6)(-152,1.4)(-148,0.6)(-145,-0.2)(-132,1.0)(-128,0.2)(-112,1.8)(-108,0.7)(-105,-0.5)(-92,1.7)(-88,0.9)(-85,-0.1)(-72,1.2)(-68,0.4)(-65,-1.1)(-52,0.9)(-48,0.5)(-45,-0.8)(-32,1.4)(-28,0.7)(-12,1.1)(-8,0.6)};
\addplot[fN] coordinates {(20,1.5)(22,0.6)(24,-0.3)(40,2.5)(42,1.2)(44,0.2)(46,-0.9)(60,1.0)(62,0.4)(80,3.1)(82,1.4)(84,0.8)(100,1.7)(102,0.9)(104,-0.2)(120,2.7)(122,1.2)(124,0.4)(140,2.3)(142,0.8)(144,0.1)(160,1.9)(162,1.0)(164,0.3)(166,-0.6)(180,1.4)(182,0.7)(184,-0.5)(200,0.9)(202,0.2)(204,-1.2)(220,0.5)(222,-0.4)(224,-1.7)(240,0.6)(242,0.1)(260,1.0)(262,0.2)(264,-0.6)(280,0.8)(282,0.4)(284,-0.2)(300,0.5)(302,-0.1)(304,-0.8)(320,0.9)(322,0.3)(324,-0.4)(340,0.4)(342,-0.3)(344,-1.3)(360,0.7)(362,-0.5)(380,0.6)(382,0.0)(384,-0.9)(400,0.2)(402,-0.6)(404,-1.6)(420,0.5)(422,-0.2)(424,-1.0)(440,0.3)(442,-0.4)(444,-1.8)(460,0.8)(462,-0.1)(464,-2.3)(466,-2.5)(480,0.2)(482,-0.7)(484,-1.4)(500,0.4)(502,-0.3)(520,-0.1)(522,-0.9)(524,-1.5)(540,0.6)(542,-0.5)(560,0.1)(562,-0.8)(564,-1.2)(580,0.3)(582,-0.6)(600,-0.2)(602,-1.0)(620,0.5)(622,-0.4)(640,0.0)(642,-0.7)(644,-1.9)(660,0.4)(662,-0.3)(680,-0.1)(682,-0.9)(700,0.3)(702,-0.5)(720,0.8)(722,-0.6)(724,-1.3)(740,0.1)(742,-0.8)(760,1.2)(762,-0.2)(780,0.5)(782,-1.1)(800,0.2)(802,-0.7)(820,0.9)(822,-0.4)(824,-1.7)(838,0.3)(840,-0.5)};
\addplot[sS] coordinates {(-1090,0.8)(-1087,-0.5)(-1084,-1.3)(-1081,-1.8)(-1072,2.7)(-1069,1.7)(-1066,-0.2)(-1063,-1.1)(-1052,1.5)(-1048,0.3)(-1045,-0.8)(-1032,1.0)(-1028,-0.4)(-1025,-1.5)(-1012,0.6)(-1008,-0.1)(-1005,-1.2)(-992,1.4)(-988,0.2)(-985,-0.9)(-972,1.2)(-968,0.5)(-965,-0.6)(-952,1.7)(-948,0.9)(-945,-0.2)(-932,1.6)(-928,1.1)(-925,0.3)(-912,2.6)(-908,1.3)(-905,0.6)(-892,1.8)(-888,0.4)(-885,-0.3)(-872,1.0)(-868,-0.2)(-865,-1.0)(-852,1.3)(-848,-0.5)(-845,-1.6)(-832,0.7)(-828,-0.6)(-825,-2.0)(-812,0.2)(-808,-0.9)(-805,-1.5)(-792,0.6)(-788,-0.4)(-785,-1.2)(-772,0.3)(-768,-0.8)(-765,-1.9)(-752,0.9)(-748,-0.3)(-745,-1.1)(-732,0.5)(-728,-0.7)(-725,-1.4)(-712,0.1)(-708,-0.5)(-705,-1.6)(-692,0.4)(-688,-1.0)(-685,-1.3)(-672,-0.3)(-668,-1.2)(-665,-2.1)(-652,0.2)(-648,-1.1)(-645,-1.8)(-632,0.6)(-628,-0.4)(-625,-2.2)(-612,0.3)(-608,-0.7)(-605,-1.5)(-592,0.7)(-588,-0.2)(-585,-1.0)(-572,0.4)(-568,-0.5)(-565,-1.3)(-552,1.2)(-548,-0.1)(-545,-1.7)(-532,0.2)(-528,-0.9)(-525,-1.4)(-512,0.8)(-508,-0.6)(-505,-1.1)(-492,1.6)(-488,0.0)(-485,-1.6)(-472,1.3)(-468,-0.4)(-465,-2.0)(-452,0.5)(-448,-0.2)(-445,-1.5)(-432,0.9)(-428,-0.8)(-425,-1.2)(-412,0.3)(-408,-0.5)(-405,-1.8)(-392,1.0)(-388,-0.3)(-385,-0.9)(-372,0.7)(-368,0.1)(-365,-1.3)(-352,1.5)(-348,0.2)(-345,-0.7)(-332,2.0)(-328,0.6)(-325,-1.0)(-322,-1.9)(-312,1.4)(-309,0.0)(-306,-1.4)(-303,-2.3)(-292,1.8)(-288,0.9)(-285,0.3)(-272,1.5)(-268,0.6)(-265,-0.4)(-252,2.3)(-248,1.2)(-245,0.4)(-232,1.0)(-228,0.5)(-225,-0.3)(-212,1.4)(-208,0.8)(-205,0.1)(-192,0.9)(-188,0.2)(-185,-0.6)(-172,0.6)(-168,0.0)(-165,-0.8)(-152,1.1)(-148,0.4)(-145,-0.5)(-132,0.7)(-128,-0.2)(-125,-1.0)(-112,1.3)(-108,0.5)(-105,-0.4)(-92,0.8)(-88,0.1)(-85,-0.7)(-72,1.0)(-68,0.3)(-65,-1.4)(-52,0.6)(-48,-0.1)(-45,-0.9)(-32,1.2)(-28,0.4)(-12,0.9)(-8,-0.6)};
\addplot[sN] coordinates {(10,3.3)(12,0.5)(14,-0.7)(20,1.2)(22,-1.2)(40,1.8)(42,0.2)(60,1.0)(62,-0.4)(80,0.6)(82,-0.2)(100,0.9)(102,0.3)(104,-0.8)(120,0.4)(122,-0.5)(140,0.7)(142,0.1)(160,0.2)(162,-0.6)(164,-1.0)(180,0.0)(182,-0.9)(184,-1.5)(200,-0.3)(202,-1.2)(204,-1.8)(220,-0.5)(222,-1.6)(224,-2.1)(230,-0.8)(232,-1.3)(234,-1.9)(250,-0.2)(252,-1.1)(270,0.4)(272,-0.6)(274,-1.5)(290,0.8)(292,0.1)(294,-0.9)(310,0.5)(312,-0.3)(314,-1.4)(330,1.4)(332,0.2)(334,-0.7)(350,0.9)(352,-0.1)(354,-1.2)(370,0.3)(372,-0.5)(390,0.7)(392,0.0)(394,-1.8)(410,1.1)(412,0.4)(414,-0.6)(430,0.6)(432,-0.2)(450,0.9)(452,0.2)(454,-1.1)(470,1.3)(472,0.5)(474,-2.0)(490,0.4)(492,-0.4)(494,-1.5)(510,1.0)(512,0.3)(530,0.6)(532,-0.1)(534,-0.9)(550,1.2)(552,0.4)(570,0.8)(572,0.0)(574,-1.3)(590,1.1)(592,0.2)(610,1.5)(612,0.7)(614,-0.3)(630,0.9)(632,0.1)(650,1.3)(652,0.5)(654,-0.8)(670,0.7)(672,-0.2)(690,1.6)(692,0.8)(694,-0.5)(710,1.0)(712,0.3)(730,1.8)(732,0.6)(734,-0.4)(750,1.4)(752,0.9)(754,-1.0)(770,2.1)(772,1.2)(774,0.4)(790,1.5)(792,0.7)(810,2.3)(812,1.0)(814,0.2)(830,1.9)(832,0.6)(834,-0.6)};
\ribbon{\Ds}{teal2}{ds}
\ribbon{\Df}{orng}{df}
\curve{\Ds}{teal2}
\curve{\Df}{orng}
\zline
\plet{D}
\ptitle{Biomass}
\end{axis}

%================ E
\begin{axis}[panel, at={(54pt,45pt)}, ymin=3.19, ymax=55.1, ytick={10,20,30,40,50},
  xtick={-1000,-500,0,500},
  ylabel={Species richness},
  xlabel={Coastline distance from Cape Hatteras (km)},
  xlabel style={font=\fontsize{15}{17}\selectfont, at={(axis description cs:0.5,-0.2216)}, anchor=center}]
\bnd{-983}{-926}\bnd{-883}{-808}\bnd{-521}{-438}\bnd{-314}{-207}\bnd{-164}{-126}\bnd{-56}{18}\bnd{133}{228}
\addplot[fS] coordinates {(-1090,28)(-1087,24)(-1084,20)(-1081,16)(-1072,30)(-1069,25)(-1066,21)(-1063,13)(-1052,27)(-1049,23)(-1046,18)(-1043,15)(-1032,29)(-1029,22)(-1026,17)(-1012,31)(-1009,24)(-1006,19)(-992,26)(-989,21)(-986,15)(-972,28)(-969,23)(-966,12)(-952,32)(-949,26)(-946,20)(-932,30)(-929,27)(-926,22)(-912,35)(-909,28)(-906,23)(-892,29)(-889,25)(-886,19)(-872,31)(-869,24)(-866,17)(-852,27)(-849,22)(-846,16)(-832,30)(-829,25)(-826,20)(-812,33)(-809,26)(-806,18)(-792,28)(-789,23)(-786,15)(-772,29)(-769,24)(-766,19)(-752,31)(-749,26)(-746,21)(-732,27)(-729,22)(-726,17)(-712,30)(-709,25)(-706,14)(-692,26)(-689,21)(-686,16)(-672,24)(-669,19)(-666,12)(-652,23)(-649,18)(-646,15)(-632,25)(-629,20)(-626,10)(-612,27)(-609,22)(-606,17)(-592,29)(-589,24)(-586,19)(-572,31)(-569,26)(-566,20)(-552,33)(-549,28)(-546,22)(-532,30)(-529,25)(-526,18)(-512,28)(-509,23)(-506,16)(-492,32)(-489,26)(-486,20)(-472,29)(-469,24)(-466,13)(-452,27)(-449,22)(-446,15)(-432,31)(-429,25)(-426,19)(-412,28)(-409,23)(-406,17)(-392,26)(-389,21)(-386,11)(-372,30)(-369,24)(-366,18)(-352,29)(-349,23)(-346,16)(-332,32)(-329,27)(-326,21)(-312,35)(-310,28)(-308,22)(-306,12)(-304,9)(-292,37)(-289,31)(-286,25)(-272,40)(-269,33)(-266,27)(-252,42)(-249,35)(-246,29)(-232,38)(-229,32)(-226,26)(-212,36)(-209,30)(-206,24)(-192,34)(-189,29)(-186,23)(-172,38)(-169,31)(-166,26)(-152,36)(-149,30)(-146,25)(-132,40)(-129,33)(-126,27)(-112,35)(-109,29)(-106,22)(-92,33)(-89,28)(-86,21)(-72,37)(-69,31)(-66,24)(-52,35)(-49,29)(-46,23)(-32,44)(-29,27)(-26,20)(-12,34)(-9,28)};
\addplot[fN] coordinates {(20,32)(22,27)(24,22)(40,30)(42,25)(70,33)(72,26)(74,20)(100,31)(102,24)(104,18)(130,29)(132,23)(160,27)(162,22)(164,17)(190,26)(192,20)(194,15)(210,30)(212,24)(214,13)(240,25)(242,19)(260,24)(262,18)(264,14)(290,28)(292,22)(294,17)(320,26)(322,21)(340,29)(342,23)(344,18)(370,27)(372,20)(400,25)(402,19)(404,15)(430,23)(432,18)(460,21)(462,16)(464,12)(466,8)(490,24)(492,19)(520,27)(522,21)(524,16)(550,22)(552,17)(580,25)(582,20)(584,14)(610,21)(612,17)(640,23)(642,18)(670,26)(672,19)(674,15)(700,20)(702,16)(730,24)(732,18)(734,13)(760,21)(762,17)(790,19)(792,15)(820,22)(822,18)(824,14)(838,20)(840,16)};
\addplot[sS] coordinates {(-1090,24)(-1087,20)(-1084,15)(-1081,10)(-1078,50)(-1075,38)(-1062,46)(-1059,42)(-1056,28)(-1042,44)(-1039,31)(-1036,18)(-1022,40)(-1019,33)(-1016,22)(-1013,14)(-1002,37)(-999,29)(-996,21)(-982,41)(-979,32)(-976,24)(-973,16)(-962,40)(-959,34)(-956,26)(-942,44)(-939,36)(-936,28)(-933,17)(-922,48)(-919,38)(-916,30)(-902,52)(-899,42)(-896,32)(-893,24)(-882,36)(-879,30)(-876,22)(-862,33)(-859,26)(-856,19)(-853,12)(-842,30)(-839,23)(-836,17)(-822,28)(-819,22)(-816,14)(-813,9)(-802,26)(-799,20)(-796,15)(-782,24)(-779,19)(-776,13)(-762,28)(-759,21)(-756,16)(-742,31)(-739,24)(-736,18)(-722,27)(-719,22)(-716,17)(-713,12)(-702,29)(-699,23)(-696,15)(-682,25)(-679,19)(-676,14)(-662,22)(-659,17)(-656,11)(-642,24)(-639,18)(-636,13)(-622,21)(-619,16)(-616,10)(-602,26)(-599,20)(-596,14)(-582,23)(-579,18)(-576,12)(-562,27)(-559,21)(-556,15)(-542,25)(-539,19)(-536,13)(-522,30)(-519,22)(-516,16)(-513,10)(-502,38)(-499,26)(-496,20)(-482,33)(-479,24)(-476,17)(-462,29)(-459,22)(-456,12)(-442,27)(-439,20)(-436,14)(-422,31)(-419,23)(-416,18)(-402,26)(-399,21)(-396,15)(-382,28)(-379,22)(-376,13)(-362,25)(-359,20)(-356,11)(-342,27)(-339,21)(-336,16)(-322,29)(-319,24)(-316,18)(-310,31)(-308,26)(-306,20)(-304,10)(-302,7)(-282,34)(-279,28)(-276,22)(-262,37)(-259,30)(-256,24)(-242,40)(-239,32)(-236,26)(-222,36)(-219,29)(-216,23)(-202,33)(-199,27)(-196,21)(-182,31)(-179,25)(-176,19)(-162,29)(-159,24)(-156,17)(-142,32)(-139,26)(-136,20)(-122,28)(-119,23)(-116,16)(-102,30)(-99,24)(-96,15)(-82,26)(-79,21)(-76,14)(-62,28)(-59,22)(-56,17)(-42,25)(-39,20)(-36,13)(-22,27)(-19,21)(-16,15)};
\addplot[sN] coordinates {(10,24)(12,20)(14,16)(30,22)(32,17)(60,21)(62,15)(90,19)(92,14)(120,20)(122,16)(124,12)(150,18)(152,14)(154,11)(170,16)(172,13)(174,10)(190,19)(192,15)(194,12)(210,17)(212,14)(214,11)(230,15)(232,12)(234,9)(250,18)(252,13)(270,21)(272,16)(274,12)(290,19)(292,15)(310,17)(312,14)(314,10)(330,20)(332,16)(350,18)(352,13)(370,16)(372,12)(390,19)(392,15)(394,11)(410,17)(412,14)(440,20)(442,16)(444,12)(470,18)(472,13)(500,16)(502,12)(530,19)(532,15)(560,17)(562,13)(564,10)(590,20)(592,15)(620,18)(622,14)(650,16)(652,12)(680,19)(682,15)(684,13)(710,17)(712,14)(740,20)(742,16)(770,18)(772,13)(800,21)(802,17)(804,15)(830,19)(832,14)(834,12)};
\ribbon{\Es}{teal2}{es}
\ribbon{\Ef}{orng}{ef}
\curve{\Es}{teal2}
\curve{\Ef}{orng}
\zline
\plet{E}
\ptitle{Richness}
\bnum{-957}{50.17}{1}{teal2}\bnum{-846}{50.17}{2}{teal2}\bnum{-480}{50.17}{3}{orng}\bnum{-262}{50.17}{4}{teal2}\bnum{-146}{50.17}{5}{teal2}\bnum{-22}{50.17}{6}{teal2}\bnum{180}{50.17}{7}{teal2}
\end{axis}
\end{tikzpicture}
\end{document}
